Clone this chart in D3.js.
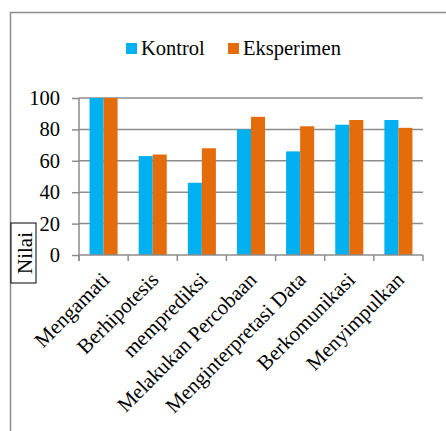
<!DOCTYPE html>
<html>
<head>
<meta charset="utf-8">
<script src="https://cdn.jsdelivr.net/npm/d3@7"></script>
<style>
  body { margin: 0; background: #fff; overflow: hidden; }
  svg { display: block; }
</style>
</head>
<body>
<script>
// data
var categories = ["Mengamati", "Berhipotesis", "memprediksi", "Melakukan Percobaan",
                  "Menginterpretasi Data", "Berkomunikasi", "Menyimpulkan"];
var kontrol    = [100, 63, 46, 80, 66, 83, 86];
var eksperimen = [100, 64, 68, 88, 82, 86, 81];
var series     = ["Kontrol", "Eksperimen"];
var yTicks     = [0, 20, 40, 60, 80, 100];

const width = 446, height = 431;
const pLeft = 79, pRight = 423, pTop = 98, pBottom = 255;
const serif = "'Times New Roman', 'Liberation Serif', serif";

var color = d3.scaleOrdinal(series, ["#00B0F0", "#E46C0A"]);

const svg = d3.select("body")
  .append("svg")
  .attr("width", width)
  .attr("height", height)
  .style("font-family", serif);

// outer chart frame: only the top and left edges fall inside the picture
svg.append("path")
  .attr("d", "M10.5," + height + "V12.5H" + width)
  .attr("fill", "none")
  .attr("stroke", "#8c8c8c")
  .attr("stroke-width", 1.5);

var x = d3.scaleBand().domain(categories).range([pLeft, pRight]).padding(0);
var bw = x.bandwidth() / 3.5;
var xs = d3.scaleBand().domain(series).range([0, bw * 2]);
var y = d3.scaleLinear().domain([0, 100]).range([pBottom, pTop]);

// gridlines
svg.append("g")
  .selectAll("line")
  .data(yTicks.filter(function(d) { return d > 0; }))
  .enter().append("line")
  .attr("x1", pLeft).attr("x2", pRight)
  .attr("y1", function(d) { return y(d); })
  .attr("y2", function(d) { return y(d); })
  .attr("stroke", "#8c8c8c")
  .attr("stroke-width", 1.5);

// bars
var rows = categories.map(function(c, i) {
  return { cat: c, values: [{ s: "Kontrol", v: kontrol[i] }, { s: "Eksperimen", v: eksperimen[i] }] };
});

var groups = svg.selectAll(".grp")
  .data(rows)
  .enter().append("g")
  .attr("class", "grp")
  .attr("transform", function(d) { return "translate(" + (x(d.cat) + bw * 0.75) + ",0)"; });

groups.selectAll("rect")
  .data(function(d) { return d.values; })
  .enter().append("rect")
  .attr("x", function(d) { return xs(d.s); })
  .attr("width", xs.bandwidth())
  .attr("y", function(d) { return y(d.v); })
  .attr("height", function(d) { return y(0) - y(d.v); })
  .attr("fill", function(d) { return color(d.s); });

// y axis
var yAxis = svg.append("g")
  .attr("transform", "translate(" + pLeft + ",0)")
  .call(d3.axisLeft(y).tickValues(yTicks).tickSize(7).tickPadding(12))
  .attr("font-family", null)
  .attr("font-size", null);
yAxis.selectAll("line, path").attr("stroke", "#8c8c8c").attr("stroke-width", 1.5);
yAxis.select(".domain").attr("d", "M0," + pTop + "V" + (pBottom + 6));
yAxis.selectAll("text")
  .style("font-family", serif)
  .style("font-size", "20.5px")
  .attr("fill", "#000");

// x axis with ticks at the category boundaries
var xAxis = svg.append("g");
xAxis.append("line")
  .attr("x1", pLeft).attr("x2", pRight)
  .attr("y1", pBottom).attr("y2", pBottom)
  .attr("stroke", "#8c8c8c").attr("stroke-width", 1.5);
xAxis.selectAll(".tk")
  .data(categories.concat(["end"]))
  .enter().append("line")
  .attr("class", "tk")
  .attr("x1", function(d, i) { return pLeft + i * x.bandwidth(); })
  .attr("x2", function(d, i) { return pLeft + i * x.bandwidth(); })
  .attr("y1", pBottom).attr("y2", pBottom + 6)
  .attr("stroke", "#8c8c8c").attr("stroke-width", 1.5);

xAxis.selectAll(".lbl")
  .data(categories)
  .enter().append("text")
  .attr("class", "lbl")
  .attr("transform", function(d) {
    return "translate(" + (x(d) + x.bandwidth() / 2 + 7) + "," + (pBottom + 26) + ") rotate(-45)";
  })
  .attr("text-anchor", "end")
  .style("font-family", serif)
  .style("font-size", "21px")
  .text(function(d) { return d; });

// axis title in a box
var title = svg.append("g").attr("transform", "translate(32,253) rotate(-90)");
title.append("rect")
  .attr("x", -30).attr("y", -21)
  .attr("width", 60).attr("height", 25)
  .attr("fill", "#fff").attr("stroke", "#000").attr("stroke-width", 1);
title.append("text")
  .attr("text-anchor", "middle")
  .attr("y", 0)
  .style("font-family", serif)
  .style("font-size", "21px")
  .text("Nilai");

// legend
var legend = svg.append("g").attr("transform", "translate(126,43)");
var lx = [0, 102];
var items = legend.selectAll(".leg")
  .data(series)
  .enter().append("g")
  .attr("class", "leg")
  .attr("transform", function(d, i) { return "translate(" + lx[i] + ",0)"; });
items.append("rect")
  .attr("width", 11).attr("height", 11)
  .attr("fill", function(d) { return color(d); });
items.append("text")
  .attr("x", 15).attr("y", 11.5)
  .style("font-family", serif)
  .style("font-size", "20.5px")
  .text(function(d) { return d; });
</script>
</body>
</html>
